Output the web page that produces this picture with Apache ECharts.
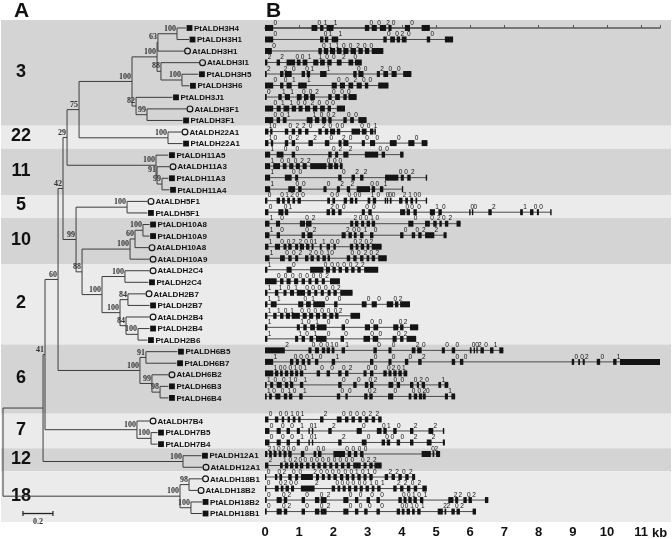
<!DOCTYPE html>
<html>
<head>
<meta charset="utf-8">
<script src="https://cdn.jsdelivr.net/npm/echarts@6/dist/echarts.min.js"></script>
<style>
html, body { margin: 0; padding: 0; background: #fff; }
#chart { width: 672px; height: 539px; }
</style>
</head>
<body>
<div id="chart"></div>
<script>
// ---- A: tree leaves (top to bottom) ----
const leafNames = ['PtALDH3H4','PtALDH3H1','AtALDH3H1','AtALDH3I1','PtALDH3H5','PtALDH3H6','PtALDH3J1','AtALDH3F1','PtALDH3F1',
  'AtALDH22A1','PtALDH22A1','PtALDH11A5','AtALDH11A3','PtALDH11A3','PtALDH11A4','AtALDH5F1','PtALDH5F1',
  'PtALDH10A8','PtALDH10A9','AtALDH10A8','AtALDH10A9','AtALDH2C4','PtALDH2C4','AtALDH2B7','PtALDH2B7','AtALDH2B4','PtALDH2B4','PtALDH2B6',
  'PtALDH6B5','PtALDH6B7','AtALDH6B2','PtALDH6B3','PtALDH6B4','AtALDH7B4','PtALDH7B5','PtALDH7B4','PtALDH12A1','AtALDH12A1',
  'AtALDH18B1','AtALDH18B2','PtALDH18B2','PtALDH18B1'];
const leafRows = [0,1,2,3,4,5,6,7,8,9,10,11,12,13,14,15,16,17,18,19,20,21,22,23,24,25,26,27,28,29,30,31,32,34,35,36,37,38,39,40,41,42];
const leafDepth = [1.22,1.24,1.207,1.307,1.303,1.243,1.13,1.223,1.197,1.19,1.197,1.103,1.11,1.103,1.11,0.963,0.963,
  0.977,0.977,0.97,0.977,0.977,0.97,0.95,0.977,0.977,0.977,0.963,1.163,1.157,1.103,1.103,1.103,0.977,1.03,1.03,1.323,1.33,
  1.327,1.297,1.327,1.327];
const leafParent = ['N3H4','N3H4','N63','N88a','N3H5','N3H5','N82','N3F','N3F','N22','N22','N11','N91','N11b','N11b','N5','N5',
  'N10b','N10b','N60b','N10','N2C','N2C','N84a','N84a','N84b','N2B4','N2B4','N6a','N6a','N6b','N6c','N6c','N7','N7b','N7b','N12','N12',
  'N18a','N18a','N18b','N18b'];

// ---- A: internal nodes ----
const nodeIds = ['root','Nx','N41','N60','N42','N29','N75','N3','N3a','N63','N3H4','N88a','N3H5','N82','N3F','N22','N11','N91','N11b',
  'N99c','N5','N88','N10','N60b','N10b','N2','N2C','N2B','N84a','N84b','N2B4','N6','N6a','N6b','N6c','N7','N7b','N12','N18','N18a','N18b'];
const nodeParent = [null,'root','Nx','N41','N60','N42','N29','N75','N3','N3a','N63','N3a','N88a','N3','N82','N75','N29','N11','N91',
  'N42','N99c','N99c','N88','N10','N60b','N88','N2','N2','N2B','N2B','N84b','N60','N6','N6','N6b','N41','N7','Nx','root','N18','N18'];
const nodeDepth = [0,0.267,0.28,0.367,0.4,0.427,0.507,0.86,1.027,1.033,1.16,1.053,1.193,0.887,0.96,1.1,1.02,1.027,1.06,
  0.487,0.827,0.527,0.847,0.88,0.933,0.66,0.813,0.78,0.833,0.82,0.9,0.913,0.953,0.993,1.047,0.893,0.987,1.2,1.18,1.24,1.253];
const nodeBoot = ['','','41','60','42','29','75','100','100','63','100','88','100','82','99','100','100','91','99',
  '99','100','88','100','60','100','100','100','100','84','84','100','100','91','99','98','100','100','100','100','98','100'];

// ---- families (row ranges) ----
const familyNames = ['3','22','11','5','10','2','6','7','12','18'];
const familyStart = [-0.7, 8.5, 10.5, 14.5, 16.5, 20.5, 27.5, 33.5, 36.5, 38.5];
const familyEnd = [8.5, 10.5, 14.5, 16.5, 20.5, 27.5, 33.5, 36.5, 38.5, 42.9];

const scaleBar = { start: 0.133, length: 0.2, row: 42, label: '0.2' };

// ---- B: exons in kb, one list per gene, same order as leaves ----
const exons = [
  [[0,0.24],[1.36,1.53],[1.61,1.71],[1.8,2.0],[2.92,3.05],[3.12,3.27],[3.36,3.54],[3.61,3.7],[4.09,4.24],[4.58,4.82]],
  [[0,0.24],[1.61,1.71],[1.75,1.85],[1.95,2.14],[3.46,3.56],[3.66,3.8],[3.85,3.95],[4.0,4.14],[4.73,4.83],[5.26,5.5]],
  [[0,0.2],[1.56,1.66],[1.72,1.85],[1.9,2.05],[2.1,2.24],[2.29,2.44],[2.5,2.66],[2.73,2.86],[2.92,3.05],[3.12,3.46]],
  [[0,0.07],[0.34,0.44],[0.63,0.88],[0.93,1.04],[1.1,1.24],[1.41,1.56],[1.61,1.75],[1.82,1.95],[2.1,2.24],[2.44,2.58],[2.63,2.83]],
  [[0,0.05],[0.44,0.54],[0.58,0.78],[1.07,1.17],[1.22,1.32],[1.61,1.8],[2.58,2.68],[2.73,2.88],[3.27,3.36],[3.46,3.6],[3.7,3.85],[4.04,4.28]],
  [[0,0.24],[0.44,0.54],[0.63,0.78],[0.97,1.22],[1.95,2.1],[2.19,2.34],[2.44,2.58],[2.68,2.83],[2.92,3.02],[3.31,3.61]],
  [[0,0.05],[0.39,0.49],[0.58,0.73],[0.93,1.07],[1.14,1.27],[1.32,1.46],[1.85,1.95],[2.05,2.19],[2.29,2.39],[2.44,2.68]],
  [[0,0.24],[0.34,0.46],[0.54,0.71],[0.78,0.91],[0.98,1.1],[1.17,1.32],[1.4,1.53],[1.61,1.75],[1.83,1.93],[2.1,2.34]],
  [[0,0.24],[0.34,0.44],[0.52,0.63],[1.22,1.39],[1.46,1.59],[1.66,1.79],[1.85,1.95],[2.29,2.39],[2.49,2.6],[2.73,2.97]],
  [[0,0.1],[0.15,0.22],[0.58,0.68],[0.78,0.88],[0.97,1.07],[1.17,1.27],[1.56,1.66],[1.75,1.85],[1.9,2.05],[2.1,2.2],[2.53,2.78],[2.83,2.97],[3.07,3.17],[3.2,3.24]],
  [[0,0.1],[0.17,0.24],[0.58,0.68],[0.78,0.88],[1.27,1.4],[1.75,1.88],[2.15,2.24],[2.29,2.44],[2.83,2.92],[3.07,3.22],[3.65,3.85],[4.19,4.37],[4.58,4.75]],
  [[0,0.15],[0.34,0.54],[0.78,0.88],[1.85,1.95],[2.05,2.14],[2.29,2.44],[2.92,3.31],[3.41,3.51],[3.95,4.05]],
  [[0,0.15],[0.24,0.44],[0.52,0.63],[0.71,0.83],[0.9,1.02],[1.1,1.22],[1.32,1.8],[1.85,1.98],[2.02,2.14],[2.19,2.27]],
  [[0,0.15],[0.58,0.78],[0.88,0.97],[2.14,2.24],[2.53,2.63],[2.78,2.88],[3.51,3.9],[3.97,4.06],[4.16,4.26],[4.7,4.73]],
  [[0,0.15],[0.68,0.88],[0.97,1.07],[1.71,1.8],[2.1,2.19],[2.39,2.49],[2.68,3.07],[3.12,3.22],[3.36,3.46],[4.0,4.02]],
  [[0,0.07],[0.34,0.44],[0.5,0.58],[0.65,0.73],[0.8,0.88],[0.95,1.05],[1.82,1.9],[1.97,2.05],[2.3,2.4],[2.48,2.58],[2.63,2.7],[3.0,3.08],[3.15,3.25],[3.5,3.52],[3.56,3.6],[3.65,3.7],[3.92,4.02],[4.1,4.18],[4.25,4.33],[4.4,4.45],[4.7,4.73]],
  [[0,0.1],[0.39,0.54],[0.58,0.68],[1.8,1.9],[1.95,2.05],[2.14,2.24],[2.83,2.92],[3.02,3.12],[3.95,4.1],[4.14,4.24],[4.34,4.44],[4.82,4.97],[5.07,5.17],[5.97,6.0],[6.05,6.09],[6.53,6.63],[7.46,7.54],[7.75,7.85],[7.95,8.01],[8.34,8.37]],
  [[0,0.13],[0.32,0.44],[1.02,1.17],[1.2,1.36],[2.49,2.58],[2.63,2.73],[2.81,2.9],[2.97,3.07],[3.12,3.22],[4.19,4.34],[4.68,4.82],[4.92,5.02],[5.1,5.17],[5.26,5.36],[5.6,5.72]],
  [[0,0.13],[0.34,0.44],[1.07,1.17],[1.24,1.39],[2.24,2.36],[2.44,2.54],[2.6,2.68],[2.78,2.88],[3.07,3.17],[3.95,4.05],[4.29,4.39],[4.48,4.58],[4.68,4.95],[5.22,5.31]],
  [[0,0.1],[0.29,0.44],[0.54,0.63],[0.68,0.78],[0.88,0.97],[1.02,1.14],[1.2,1.3],[1.36,1.42],[1.6,1.66],[1.8,1.9],[2.0,2.07],[2.48,2.58],[2.65,2.73],[2.8,2.9],[2.97,3.05],[3.12,3.41]],
  [[0,0.13],[0.44,0.58],[0.68,0.78],[0.88,0.97],[1.17,1.27],[1.33,1.43],[1.51,1.6],[1.68,1.78],[1.83,1.9],[2.39,2.49],[2.58,2.68],[2.78,2.88],[2.97,3.05],[3.12,3.22],[3.31,3.56]],
  [[0,0.07],[0.63,0.78],[1.32,1.71],[1.78,1.9],[1.97,2.07],[2.15,2.25],[2.34,2.44],[2.52,2.62],[2.7,2.8],[2.9,3.31]],
  [[0,0.34],[0.44,0.54],[0.63,0.75],[0.85,0.97],[1.07,1.17],[1.27,1.36],[1.46,1.56],[1.66,1.75],[1.9,2.19]],
  [[0,0.07],[0.29,0.39],[0.54,0.63],[0.73,0.85],[0.93,1.17],[1.24,1.34],[1.44,1.53],[1.63,1.72],[1.83,1.92],[2.0,2.1],[2.2,2.56]],
  [[0,0.07],[0.17,0.34],[0.97,1.12],[1.2,1.34],[1.41,1.75],[2.02,2.12],[2.83,2.97],[3.12,3.27],[3.56,3.75],[3.8,3.9],[3.95,4.24]],
  [[0,0.07],[0.24,0.34],[0.44,0.54],[0.61,0.73],[0.78,1.02],[1.1,1.22],[1.29,1.41],[1.49,1.61],[1.68,1.8],[1.88,2.0],[2.05,2.15],[2.5,2.78]],
  [[0,0.07],[0.93,1.02],[1.12,1.22],[1.32,1.46],[1.51,1.8],[2.24,2.34],[2.92,3.07],[3.17,3.31],[3.75,3.9],[3.95,4.05],[4.24,4.48]],
  [[0,0.07],[0.88,0.97],[1.07,1.17],[1.3,1.41],[1.49,1.8],[2.21,2.31],[2.88,3.07],[3.15,3.31],[3.73,3.85],[3.95,4.05],[4.14,4.42]],
  [[0,0.58],[1.27,1.36],[1.46,1.58],[1.66,1.76],[1.8,1.9],[1.95,2.03],[2.24,2.34],[3.17,3.27],[3.61,3.7],[4.29,4.4],[4.45,4.58],[5.17,5.26],[5.46,5.56],[5.99,6.04],[6.1,6.14],[6.18,6.22],[6.3,6.4],[6.58,6.68],[6.85,6.97]],
  [[0,0.24],[0.73,0.83],[0.9,0.99],[1.07,1.17],[1.24,1.33],[1.46,1.56],[1.95,2.05],[3.07,3.17],[3.61,3.7],[4.09,4.19],[4.48,4.58],[5.46,5.56],[5.7,5.8],[8.97,9.04],[9.16,9.21],[9.29,9.35],[9.7,9.8],[10.18,10.28],[10.38,11.55]],
  [[0,0.24],[0.29,0.39],[0.44,0.52],[0.58,0.68],[0.73,0.83],[0.88,0.97],[1.02,1.12],[1.51,1.61],[1.8,1.9],[2.14,2.24],[2.34,2.44],[2.88,2.97],[3.07,3.17],[3.46,3.56],[3.61,3.7],[3.75,3.85],[3.9,4.0],[4.05,4.16]],
  [[0,0.05],[0.15,0.24],[0.34,0.49],[0.58,0.68],[0.73,0.83],[1.02,1.12],[2.14,2.24],[2.58,2.68],[2.92,3.02],[3.07,3.17],[3.61,3.75],[3.85,3.95],[4.24,4.34],[4.44,4.5],[4.58,4.68],[5.07,5.15],[5.25,5.36]],
  [[0,0.05],[0.12,0.2],[0.3,0.45],[0.55,0.65],[0.7,0.8],[1.0,1.1],[2.1,2.2],[2.35,2.42],[2.9,3.0],[3.05,3.15],[3.6,3.75],[4.2,4.28],[4.35,4.45],[4.5,4.6],[4.62,4.7],[5.26,5.35],[5.45,5.56]],
  [[0,0.1],[0.29,0.39],[0.49,0.56],[0.66,0.73],[0.81,0.89],[0.97,1.04],[1.61,1.71],[2.1,2.24],[2.34,2.44],[2.53,2.63],[2.73,2.83],[2.92,3.02],[3.12,3.22],[3.31,3.41]],
  [[0,0.13],[0.34,0.46],[0.63,0.73],[0.93,1.02],[1.27,1.3],[1.37,1.41],[1.85,1.95],[2.68,2.83],[3.27,3.41],[3.46,3.56],[3.75,3.85],[4.24,4.34],[4.78,4.92],[5.2,5.24]],
  [[0,0.13],[0.34,0.46],[0.63,0.73],[0.93,1.02],[1.27,1.3],[1.37,1.41],[2.14,2.24],[2.83,2.97],[3.41,3.51],[3.56,3.66],[3.85,3.95],[4.24,4.34],[4.73,4.87],[5.2,5.26]],
  [[0,0.07],[0.12,0.2],[0.25,0.34],[0.4,0.48],[0.54,0.63],[0.68,0.78],[1.05,1.15],[1.42,1.5],[1.55,1.65],[2.0,2.34],[2.42,2.52],[2.6,2.7],[2.78,2.88],[4.58,4.85],[4.9,4.95],[5.0,5.12]],
  [[0,0.1],[0.44,0.52],[0.58,0.68],[0.73,0.83],[0.88,0.97],[1.02,1.12],[1.2,1.3],[1.37,1.46],[1.53,1.63],[1.7,1.8],[1.88,1.97],[2.05,2.14],[2.22,2.32],[2.39,2.49],[2.58,2.8],[2.88,2.97],[3.05,3.15],[3.2,3.41]],
  [[0,0.04],[0.29,0.36],[0.42,0.5],[0.68,0.78],[0.88,0.97],[1.05,1.4],[1.49,1.58],[1.66,1.75],[1.83,1.92],[2.0,2.1],[2.19,2.29],[2.36,2.46],[2.53,2.62],[2.7,2.8],[2.88,2.97],[3.05,3.15],[3.5,3.6],[3.7,3.8],[3.9,4.0],[4.1,4.2],[4.3,4.39]],
  [[0,0.04],[0.29,0.4],[0.46,0.54],[0.6,0.7],[0.76,0.85],[1.05,1.45],[1.95,2.05],[2.12,2.2],[2.27,2.36],[2.43,2.52],[2.6,2.7],[2.77,2.86],[2.94,3.04],[3.12,3.2],[3.28,3.38],[3.75,3.85],[3.95,4.05],[4.15,4.25],[4.35,4.45],[4.6,4.73]],
  [[0,0.05],[0.34,0.49],[0.55,0.65],[1.07,1.17],[1.46,1.59],[1.63,1.8],[2.29,2.44],[2.63,2.73],[2.97,3.07],[3.26,3.36],[3.9,4.0],[4.05,4.14],[4.19,4.29],[4.34,4.44],[4.53,4.63],[5.36,5.51],[5.56,5.65],[5.8,5.9],[5.95,6.05],[6.43,6.53]],
  [[0,0.05],[0.34,0.49],[0.55,0.65],[1.07,1.17],[1.46,1.59],[1.63,1.8],[2.29,2.44],[2.63,2.73],[2.9,3.0],[3.26,3.36],[3.85,3.95],[4.0,4.08],[4.14,4.24],[4.3,4.38],[4.45,4.55],[5.05,5.2],[5.25,5.3],[5.45,5.55],[5.6,5.7],[6.07,6.17]]
];

// intron phases, one digit per intron
const phases = ['001100200','001100200','001100200','2200110020','22001100200','001100200','011002000','011002000','001100200',
  '1002202000001','100220200000','10002200','100022000','100022002','100022001',
  '00120000000100002100','0012000000010002100','10022001000202','1002200100022','100220011000202','10022001000202',
  '100000022','00000002','1101000002','1101000002','11010000002','1101000002','1101000002',
  '200010100200000201','100010100020000201','10001010002000201','1001010002000201','1001010002000201',
  '0001012000022','0001012001022','0001012000022','210200000000002','21020000000000022',
  '00200200000010102202','0020020000001012202','0020020000001012202','0020020000001012202'];

const kbMax = 11.55;

// ---- build tree layout (y of internal nodes = middle of children) ----
const childNodes = {}, childLeaves = {}, yOf = {}, span = {};
nodeIds.forEach(id => { childNodes[id] = []; childLeaves[id] = []; });
nodeParent.forEach((p, i) => { if (p) childNodes[p].push(nodeIds[i]); });
leafParent.forEach((p, i) => childLeaves[p].push(leafRows[i]));
function place (id) {
  const ys = childLeaves[id].concat(childNodes[id].map(place));
  const lo = Math.min(...ys), hi = Math.max(...ys);
  span[id] = [lo, hi];
  yOf[id] = (lo + hi) / 2;
  return yOf[id];
}
place('root');

const treeItems = [];
nodeIds.forEach((id, i) => {
  const p = nodeParent[i];
  treeItems.push({ depth: nodeDepth[i], y: yOf[id], from: p ? nodeDepth[nodeIds.indexOf(p)] : null,
    lo: span[id][0], hi: span[id][1], boot: nodeBoot[i] });
});
leafNames.forEach((name, i) => {
  treeItems.push({ depth: leafDepth[i], y: leafRows[i], from: nodeDepth[nodeIds.indexOf(leafParent[i])],
    leaf: name, pt: name.indexOf('Pt') === 0 });
});

const lineColor = '#3c3c3c';
const nameFont = 'bold 8px "Liberation Sans", Arial, sans-serif';
const bootFont = 'bold 8px "Liberation Serif", "DejaVu Serif", serif';

function renderTree (params, api) {
  const it = treeItems[params.dataIndex];
  const els = [];
  const p = api.coord([it.depth, it.y]);
  if (it.from !== null) {
    const q = api.coord([it.from, it.y]);
    els.push({ type: 'line', shape: { x1: q[0], y1: q[1], x2: p[0], y2: p[1] }, style: { stroke: lineColor, lineWidth: 1 } });
  }
  if (!it.leaf) {
    const a = api.coord([it.depth, it.lo]), b = api.coord([it.depth, it.hi]);
    els.push({ type: 'line', shape: { x1: a[0], y1: a[1], x2: b[0], y2: b[1] }, style: { stroke: lineColor, lineWidth: 1 } });
    if (it.boot) {
      els.push({ type: 'text', style: { text: it.boot, x: p[0] - 1, y: p[1] - 1, align: 'right', verticalAlign: 'bottom', font: bootFont, fill: '#333' } });
    }
  } else {
    const mx = p[0] + 3.5;
    if (it.pt) {
      els.push({ type: 'rect', shape: { x: mx - 2.9, y: p[1] - 2.9, width: 5.8, height: 5.8 }, style: { fill: '#111' } });
    } else {
      els.push({ type: 'circle', shape: { cx: mx, cy: p[1], r: 2.9 }, style: { fill: 'none', stroke: '#111', lineWidth: 1.2 } });
    }
    els.push({ type: 'text', style: { text: it.leaf, x: mx + 4.5, y: p[1] + 0.5, align: 'left', verticalAlign: 'middle', font: nameFont, fill: '#111' } });
  }
  return { type: 'group', children: els };
}

function renderScale (params, api) {
  const a = api.coord([scaleBar.start, scaleBar.row]);
  const b = api.coord([scaleBar.start + scaleBar.length, scaleBar.row]);
  return { type: 'group', children: [
    { type: 'line', shape: { x1: a[0], y1: a[1], x2: b[0], y2: b[1] }, style: { stroke: '#222', lineWidth: 1.3 } },
    { type: 'line', shape: { x1: a[0], y1: a[1] - 2.5, x2: a[0], y2: a[1] + 2.5 }, style: { stroke: '#222', lineWidth: 1.2 } },
    { type: 'line', shape: { x1: b[0], y1: b[1] - 2.5, x2: b[0], y2: b[1] + 2.5 }, style: { stroke: '#222', lineWidth: 1.2 } },
    { type: 'text', style: { text: scaleBar.label, x: (a[0] + b[0]) / 2, y: a[1] + 4, align: 'center', verticalAlign: 'top', font: bootFont, fill: '#333' } }
  ] };
}

function renderBand (params, api) {
  const i = params.dataIndex;
  const top = api.coord([0, familyStart[i]])[1];
  const bottom = api.coord([0, familyEnd[i]])[1];
  return { type: 'group', children: [
    { type: 'rect', shape: { x: 1, y: top, width: 670, height: bottom - top }, style: { fill: i % 2 === 0 ? '#d4d4d4' : '#ebebeb' } },
    { type: 'text', style: { text: familyNames[i], x: 21, y: (top + bottom) / 2 - 1, align: 'center', verticalAlign: 'middle',
      font: 'bold 18px "Liberation Sans", Arial, sans-serif', fill: '#111' } }
  ] };
}

function renderGene (params, api) {
  const i = params.dataIndex;
  const ex = exons[i], ph = phases[i], row = leafRows[i];
  const s = api.coord([ex[0][0], row]);
  const e = api.coord([ex[ex.length - 1][1], row]);
  const y = s[1];
  const els = [{ type: 'line', shape: { x1: s[0], y1: y, x2: e[0], y2: y }, style: { stroke: '#4a4a4a', lineWidth: 1 } }];
  ex.forEach((seg, k) => {
    const a = api.coord([seg[0], row])[0], b = api.coord([seg[1], row])[0];
    els.push({ type: 'rect', shape: { x: a, y: y - 3, width: Math.max(b - a, 1.4), height: 6 }, style: { fill: '#141414' } });
    if (k < ph.length && k < ex.length - 1) {
      els.push({ type: 'text', style: { text: ph[k], x: b + 0.3, y: y - 1.5, align: 'left', verticalAlign: 'bottom',
        font: '6.5px "Liberation Sans", Arial, sans-serif', fill: '#111' } });
    }
  });
  return { type: 'group', children: els };
}

const chart = echarts.init(document.getElementById('chart'));
chart.setOption({
  animation: false,
  backgroundColor: '#fff',
  grid: [
    { left: 3, top: 22.2, width: 255, height: 503.8 },
    { left: 265, top: 22.2, width: 395, height: 503.8 }
  ],
  xAxis: [
    { type: 'value', gridIndex: 0, min: 0, max: 1.7, show: false },
    { type: 'value', gridIndex: 1, min: 0, max: kbMax, interval: 1,
      axisLine: { show: true, lineStyle: { color: '#555', width: 1.5 } },
      axisTick: { show: true, inside: true, length: 3, lineStyle: { color: '#555' } },
      splitLine: { show: false },
      axisLabel: { formatter: v => (Number.isInteger(v) ? String(v) : ''), color: '#111', fontWeight: 'bold',
        fontSize: 13, margin: 2, fontFamily: '"Liberation Sans", Arial, sans-serif' } }
  ],
  yAxis: [
    { type: 'value', gridIndex: 0, min: -0.5, max: 43.08, inverse: true, show: false },
    { type: 'value', gridIndex: 1, min: -0.5, max: 43.08, inverse: true, show: false }
  ],
  graphic: [
    { type: 'text', left: 14, top: 1, style: { text: 'A', font: 'bold 21px "Liberation Sans", Arial, sans-serif', fill: '#111' } },
    { type: 'text', left: 266, top: 1, style: { text: 'B', font: 'bold 21px "Liberation Sans", Arial, sans-serif', fill: '#111' } },
    { type: 'text', left: 652, top: 527, style: { text: 'kb', font: 'bold 13px "Liberation Sans", Arial, sans-serif', fill: '#111' } }
  ],
  series: [
    { type: 'custom', name: 'bands', xAxisIndex: 1, yAxisIndex: 1, z: 0, silent: true, clip: false,
      renderItem: renderBand, data: familyNames.map((n, i) => [0, familyStart[i]]) },
    { type: 'custom', name: 'tree', xAxisIndex: 0, yAxisIndex: 0, z: 3, silent: true, clip: false,
      renderItem: renderTree, data: treeItems.map(t => [t.depth, t.y]) },
    { type: 'custom', name: 'scale', xAxisIndex: 0, yAxisIndex: 0, z: 3, silent: true, clip: false,
      renderItem: renderScale, data: [[scaleBar.start, scaleBar.row]] },
    { type: 'custom', name: 'genes', xAxisIndex: 1, yAxisIndex: 1, z: 3, silent: true, clip: false,
      renderItem: renderGene, data: leafRows.map(r => [0, r]) }
  ]
});
</script>
</body>
</html>
